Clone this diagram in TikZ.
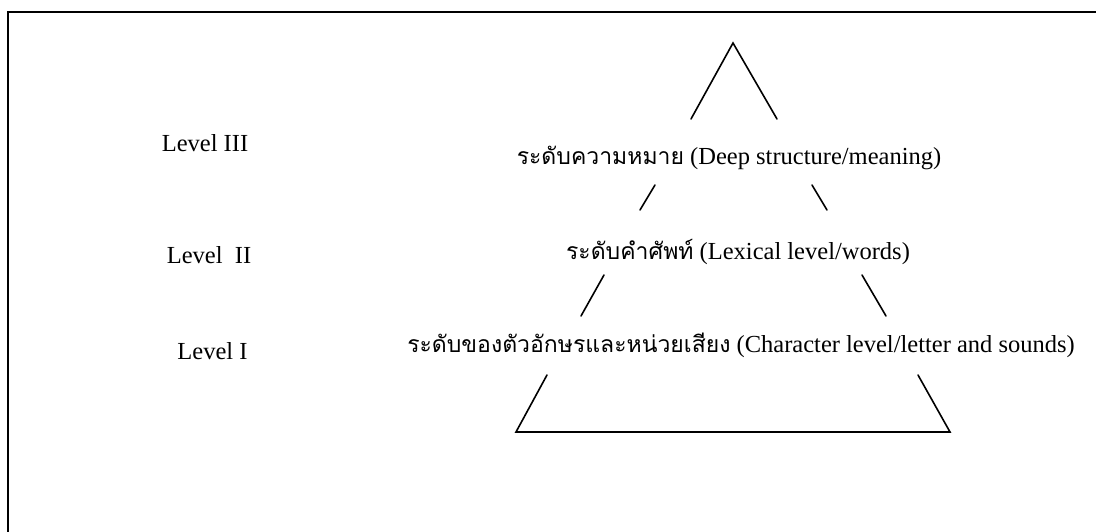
\documentclass[tikz,border=0pt]{standalone}
\usepackage{fontspec}
\setmainfont{Liberation Serif}
\newfontfamily\thaifont[Script=Thai]{Loma}
\newcommand{\thaitext}[1]{{\thaifont\fontsize{23}{28}\selectfont #1}}
\begin{document}
\begin{tikzpicture}[x=1pt,y=-1pt,
  lbl/.style={anchor=base,inner sep=0pt,font=\fontsize{24.5}{28}\selectfont},
  seg/.style={line width=1.6pt,line cap=round,line join=miter},
  frame/.style={line width=2.2pt}]
\useasboundingbox (0,0) rectangle (1096,532);
\draw[frame] (8,540) -- (8,12) -- (1100,12);
% labels
\node[lbl] (lvlc) at (205,152) {Level III};
\node[lbl] (lvlb) at (209,263) {Level\ \ II};
\node[lbl] (lvla) at (212.5,359) {Level I};
\node[lbl] (tc) at (729,165) {\thaitext{ระดับความหมาย} (Deep structure/meaning)};
\node[lbl] (tb) at (738,259) {\thaitext{ระดับคำศัพท์} (Lexical level/words)};
\node[lbl] (ta) at (741,352) {\thaitext{ระดับของตัวอักษรและหน่วยเสียง} (Character level/letter and sounds)};
% triangle pieces
\coordinate (apex) at (733,43);
\draw[seg] (691,119) -- (apex) -- (777,119);
\draw[seg] (655,185) -- (640,210);
\draw[seg] (812,185) -- (827,210);
\draw[seg] (604,275) -- (581,316);
\draw[seg] (862,275) -- (886,316);
\draw[seg] (547,375) -- (516,432) -- (950,432) -- (918,375);
\end{tikzpicture}
\end{document}
